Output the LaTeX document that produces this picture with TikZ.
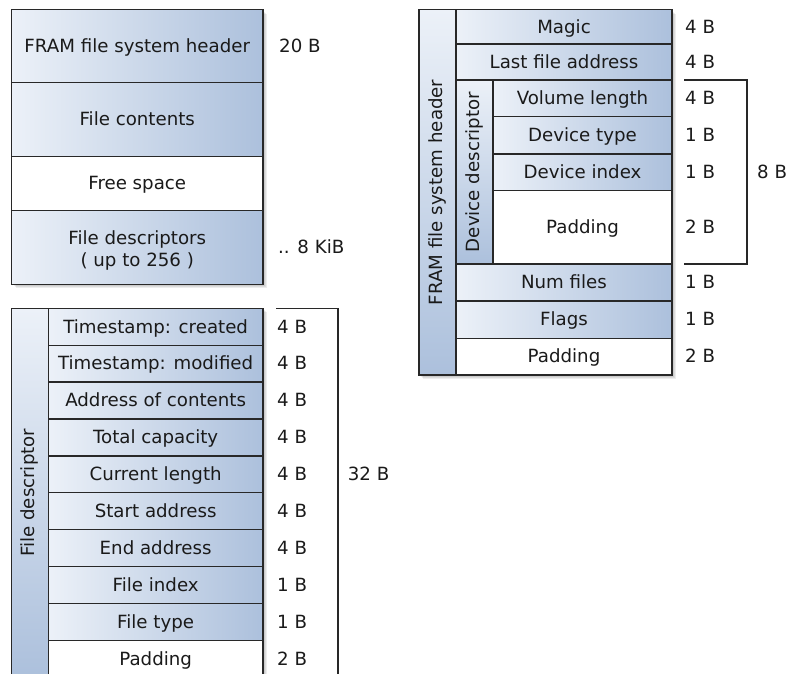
\documentclass[tikz,border=0pt]{standalone}
\usepackage{fontspec}
\setmainfont{DejaVu Sans}
\usetikzlibrary{calc}
\definecolor{cellL}{RGB}{236,241,248}
\definecolor{cellR}{RGB}{172,192,220}
\definecolor{edge}{RGB}{40,40,40}
\definecolor{ink}{RGB}{26,26,26}
\tikzset{
  base/.style={draw=edge, line width=1.3pt, inner sep=0pt, outer sep=0pt, anchor=north west, text=ink, align=center, text height=1.25em, text depth=0pt},
  cell/.style={base, left color=cellL, right color=cellR},
  wcell/.style={base, fill=white},
  vbar/.style={base, top color=cellL, bottom color=cellR},
  lbl/.style={text=ink, inner sep=0pt, anchor=west, text height=1.25em, text depth=0pt},
  vlbl/.style={text=ink, inner sep=0pt, rotate=90},
  txt/.style={text=ink, inner sep=0pt, align=center},
  brk/.style={draw=edge, line width=1.3pt},
  shd/.style={fill=black, opacity=0.07},
}
\newcommand{\shadowbox}[4]{%
  \foreach \d in {1,2,3,4}{\fill[shd] (#1+\d,#2+\d) rectangle (#3+\d,#4+\d);}}
\begin{document}
\begin{tikzpicture}[x=1pt,y=-1pt,font=\fontsize{18.2}{22}\selectfont]
\clip (0,0) rectangle (787,673);
\fill[white] (0,0) rectangle (787,673);
% shadows
\shadowbox{11.5}{9.5}{263}{284.3}
\shadowbox{419}{9.7}{672}{375}
\shadowbox{11.5}{308.3}{263}{700}
% ---------- overall layout ----------
\node[cell, minimum width=251.5, minimum height=73] (hdr) at (11.5,9.5) {FRAM file system header};
\node[cell, minimum width=251.5, minimum height=74.2] (cont) at (11.5,82.5) {File contents};
\node[wcell, minimum width=251.5, minimum height=54] (free) at (11.5,156.7) {Free space};
\node[cell, minimum width=251.5, minimum height=73.6] (fds) at (11.5,210.7) {};
\node[txt] (fdsl) at ($(fds.center)+(0,3)$) {File descriptors\\( up to 256 )};
\node[lbl] (l20) at ($(hdr.east)+(16,0)$) {20 B};
\node[lbl] (l8k) at ($(fds.east)+(15,0)$) {.. 8 KiB};
% ---------- FRAM header ----------
\node[vbar, minimum width=37, minimum height=365.3] (fbar) at (419,9.7) {};
\node[vlbl] (fbarl) at (fbar.center) {FRAM file system header};
\node[cell, minimum width=216, minimum height=34.3] (magic) at (456,9.7) {Magic};
\node[cell, minimum width=216, minimum height=36] (last) at (456,44) {Last file address};
\node[vbar, minimum width=37, minimum height=184] (dbar) at (456,80) {};
\node[vlbl] (dbarl) at (dbar.center) {Device descriptor};
\node[cell, minimum width=179, minimum height=36.7] (vol) at (493,80) {Volume length};
\node[cell, minimum width=179, minimum height=37.3] (dtype) at (493,116.7) {Device type};
\node[cell, minimum width=179, minimum height=36.7] (didx) at (493,154) {Device index};
\node[wcell, minimum width=179, minimum height=73.3] (dpad) at (493,190.7) {Padding};
\node[cell, minimum width=216, minimum height=37] (nfiles) at (456,264) {Num files};
\node[cell, minimum width=216, minimum height=37.3] (flags) at (456,301) {Flags};
\node[wcell, minimum width=216, minimum height=36.7] (hpad) at (456,338.3) {Padding};
\foreach \n/\t in {magic/4 B,last/4 B,vol/4 B,dtype/1 B,didx/1 B,dpad/2 B,nfiles/1 B,flags/1 B,hpad/2 B}{
  \node[lbl] (r\n) at ($(\n.east)+(13,0)$) {\t};
}
\coordinate (bA) at ($(vol.north east)+(12,0)$);
\coordinate (bB) at ($(dpad.south east)+(12,0)$);
\draw[brk] (bA) -- ++(63,0) |- (bB);
\node[lbl] (l8b) at ($(bA)!0.5!(bB)+(73,0)$) {8 B};
% ---------- File descriptor ----------
\node[vbar, minimum width=36.8, minimum height=369] (fdbar) at (11.5,308.3) {};
\node[vlbl] (fdbarl) at (fdbar.center) {File descriptor};
\foreach \i/\n/\t/\s in {0/tc/Timestamp: created/4 B,1/tm/Timestamp: modified/4 B,2/ac/Address of contents/4 B,3/tcap/Total capacity/4 B,4/cl/Current length/4 B,5/sa/Start address/4 B,6/ea/End address/4 B,7/fi/File index/1 B,8/ft/File type/1 B}{
  \node[cell, minimum width=214.7, minimum height=36.9] (\n) at (48.3,308.3+36.9*\i) {\t};
  \node[lbl] (s\n) at ($(\n.east)+(14,0)$) {\s};
}
\node[wcell, minimum width=214.7, minimum height=36.9] (fpad) at (48.3,308.3+36.9*9) {Padding};
\node[lbl] (sfpad) at ($(fpad.east)+(14,0)$) {2 B};
\coordinate (cA) at ($(tc.north east)+(13,0)$);
\coordinate (cB) at ($(fpad.south east)+(75,20)$);
\draw[brk] (cA) -- ++(62,0) -- (cB);
\node[lbl] (l32) at ($(cl.east)+(84.7,0)$) {32 B};
\end{tikzpicture}
\end{document}
